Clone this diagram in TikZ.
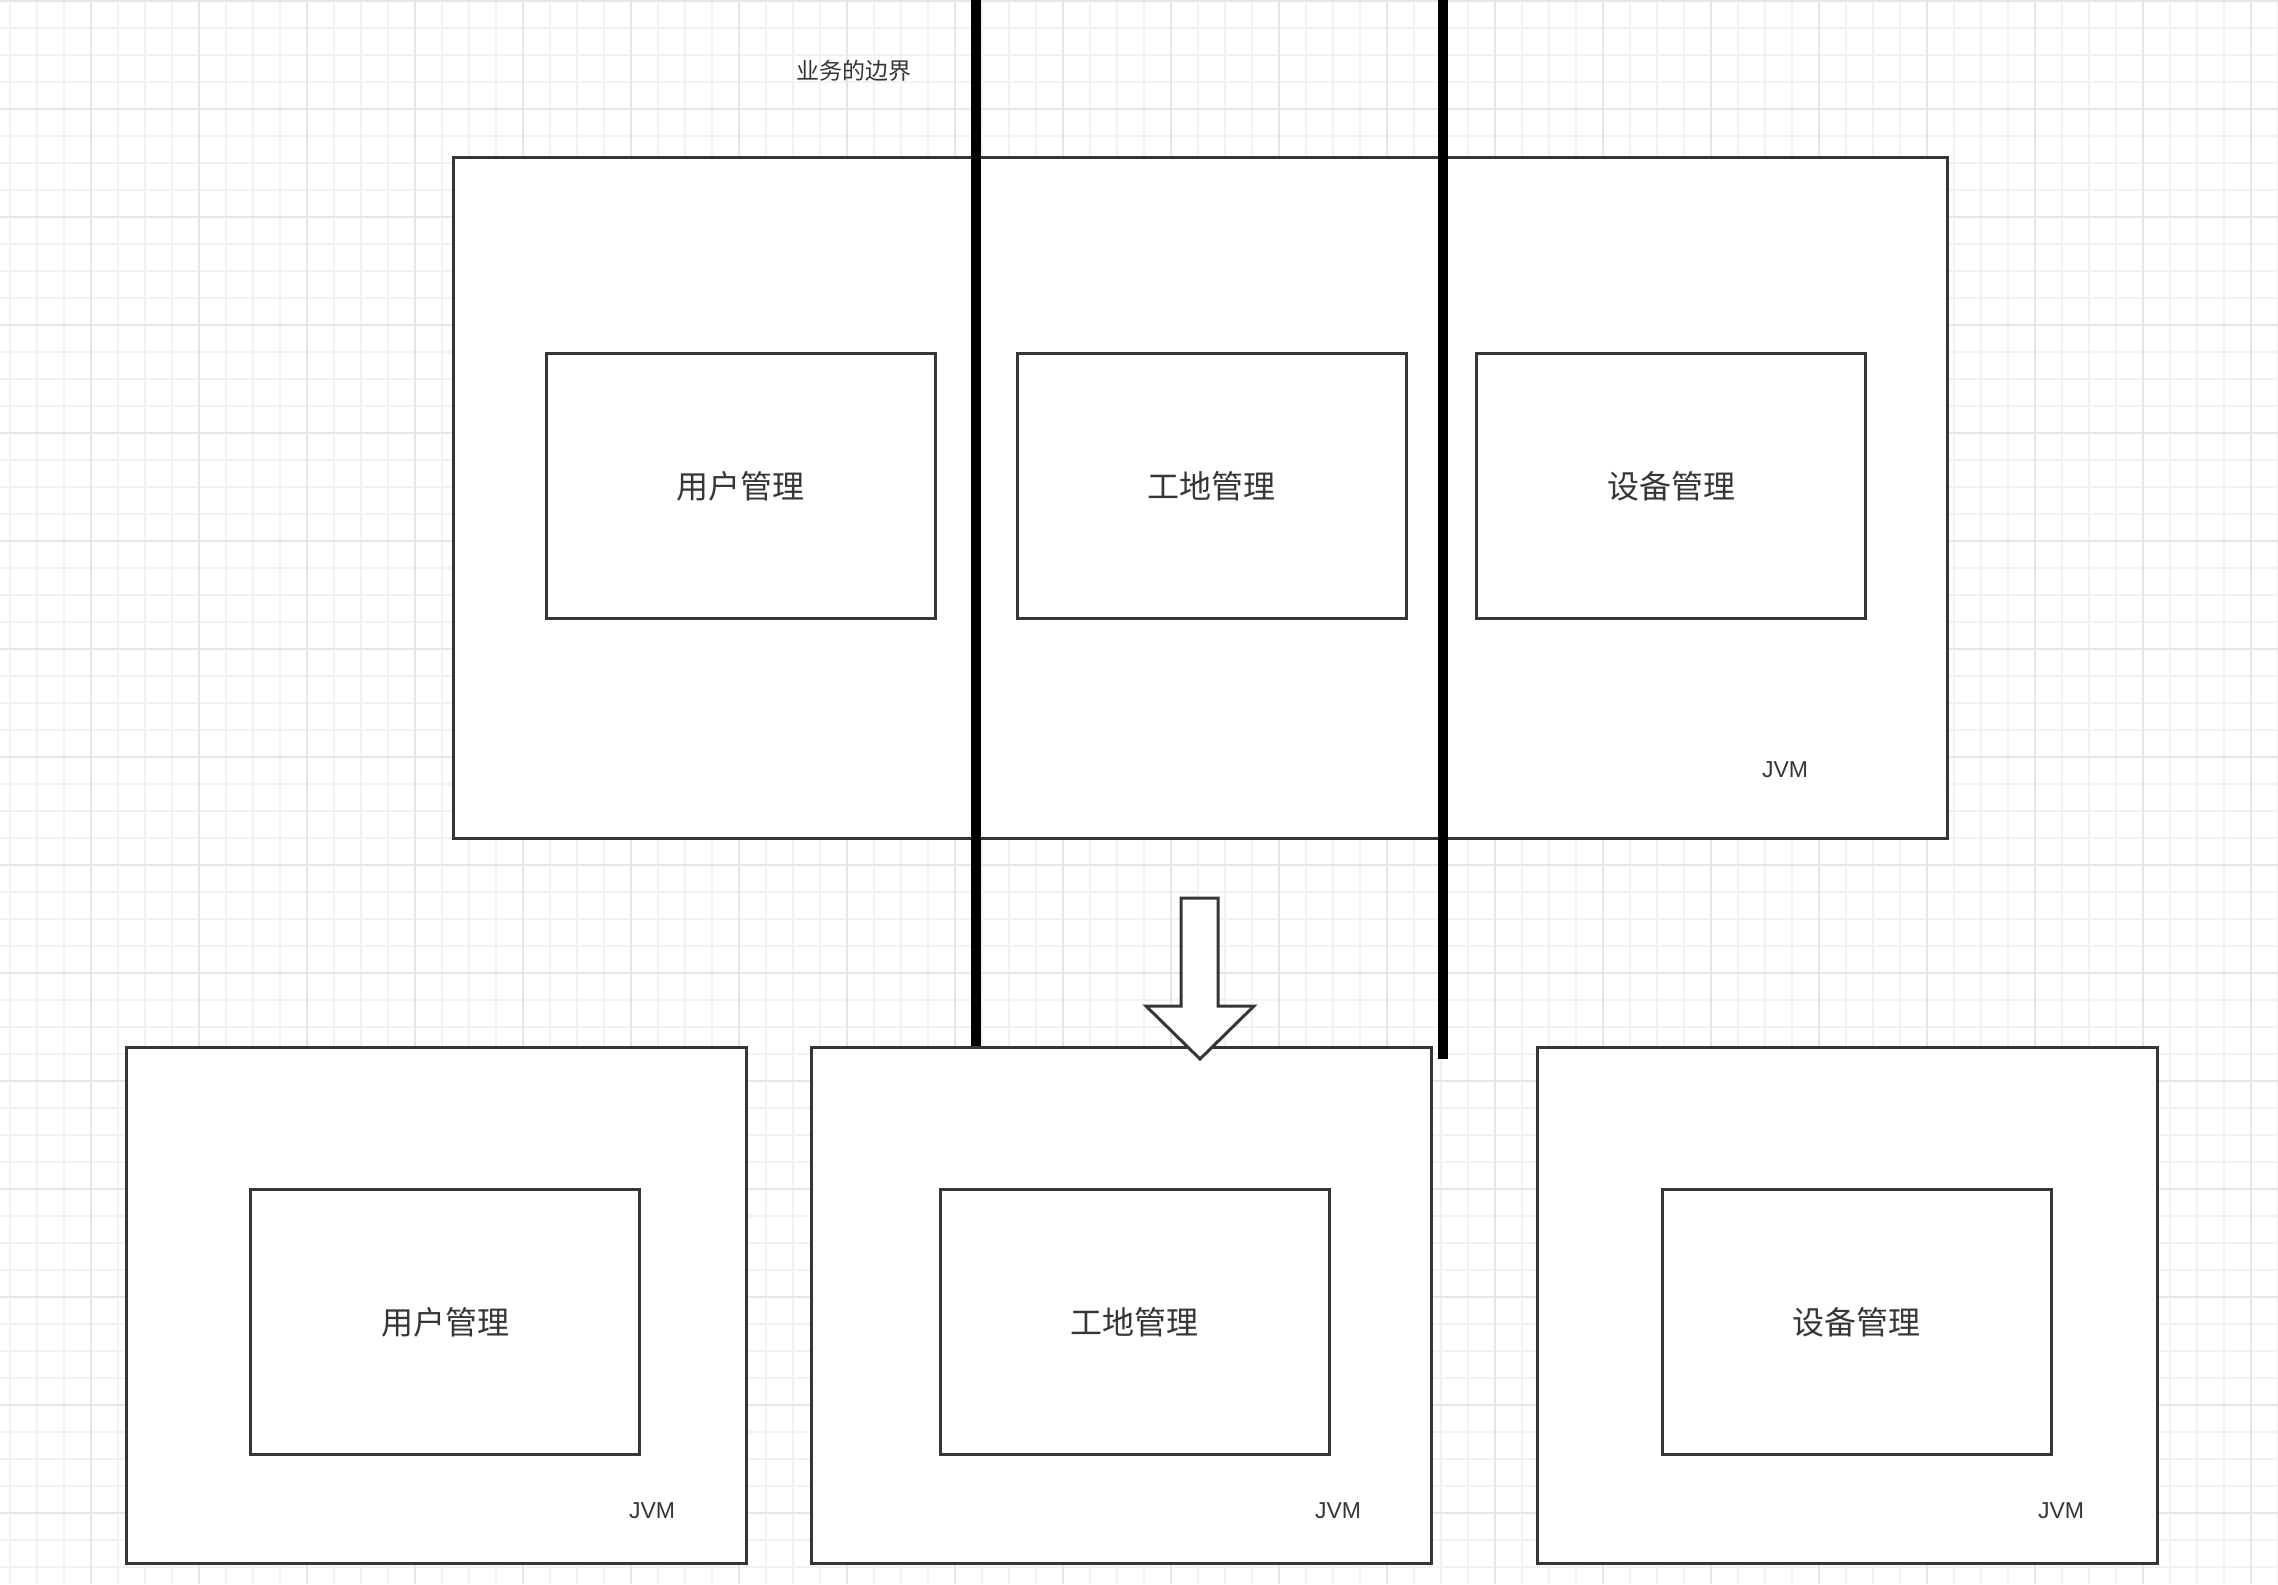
\documentclass[tikz,border=0pt]{standalone}
\usepackage{fontspec}
\setmainfont{Liberation Sans}
\newfontfamily\cjk{Noto Sans CJK SC}
\definecolor{edge}{HTML}{363636}
\definecolor{gridminor}{HTML}{F2F2F2}
\definecolor{gridmajor}{HTML}{E6E6E6}

\begin{document}
\begin{tikzpicture}[x=0.5pt,y=-0.5pt,
        outline/.style={draw=edge, line width=1.5pt, fill=white, line join=miter},
        jvmbox/.style={outline, inner sep=0pt, minimum width=310pt, minimum height=258pt},
        modbox/.style={outline, inner sep=0pt, minimum width=194.5pt, minimum height=132.5pt,
            text=edge, font=\cjk\fontsize{16pt}{19pt}\selectfont},
        jvmlabel/.style={text=edge, font=\fontsize{11.5pt}{14pt}\selectfont},
        wall/.style={draw=black, line width=5pt}]
        \useasboundingbox (0,0) rectangle (2278,1584);
        \fill[white] (0,0) rectangle (2278,1584);

        % background grid
        \foreach \x in {10,37,...,2278} \draw[gridminor, line width=0.75pt] (\x,0) -- (\x,1584);
        \foreach \y in {1,28,...,1584} \draw[gridminor, line width=0.75pt] (0,\y) -- (2278,\y);
        \foreach \x in {91,199,...,2278} \draw[gridmajor, line width=1pt] (\x,0) -- (\x,1584);
        \foreach \y in {1,109,...,1584} \draw[gridmajor, line width=1pt] (0,\y) -- (2278,\y);

        % one JVM, three modules
        \node[outline, inner sep=0pt, minimum width=747pt, minimum height=340.5pt] (mono) at (1200,497.5) {};
        \node[modbox] (user) at (740.5,486) {用户管理};
        \node[modbox] (site) at (1211.5,486) {工地管理};
        \node[modbox] (device) at (1671,486) {设备管理};
        \node[jvmlabel] (monojvm) at (1785,770) {JVM};

        \node[jvmlabel] (bound) at (854,71) {\cjk 业务的边界};

        % business boundaries
        \coordinate (w1) at (976,0);
        \coordinate (w1end) at (976,1047);
        \coordinate (w2) at (1443,0);
        \coordinate (w2end) at (1443,1059);
        \path[wall] (w1) -- (w1end);
        \path[wall] (w2) -- (w2end);

        % split into three JVMs
        \node[jvmbox] (jvm1) at (436.5,1305) {};
        \node[jvmbox] (jvm2) at (1121.5,1305) {};
        \node[jvmbox] (jvm3) at (1847.5,1305) {};
        \node[modbox] (user2) at (445,1322) {用户管理};
        \node[modbox] (site2) at (1134.5,1322) {工地管理};
        \node[modbox] (device2) at (1856.5,1322) {设备管理};
        \node[jvmlabel] (jvm1l) at (652,1511) {JVM};
        \node[jvmlabel] (jvm2l) at (1338,1511) {JVM};
        \node[jvmlabel] (jvm3l) at (2061,1511) {JVM};

        % block arrow
        \path[outline] (1181,898) -- (1218,898) -- (1218,1006) -- (1254,1006)
            -- (1200,1059) -- (1146,1006) -- (1181,1006) -- cycle;
    \end{tikzpicture}
\end{document}
